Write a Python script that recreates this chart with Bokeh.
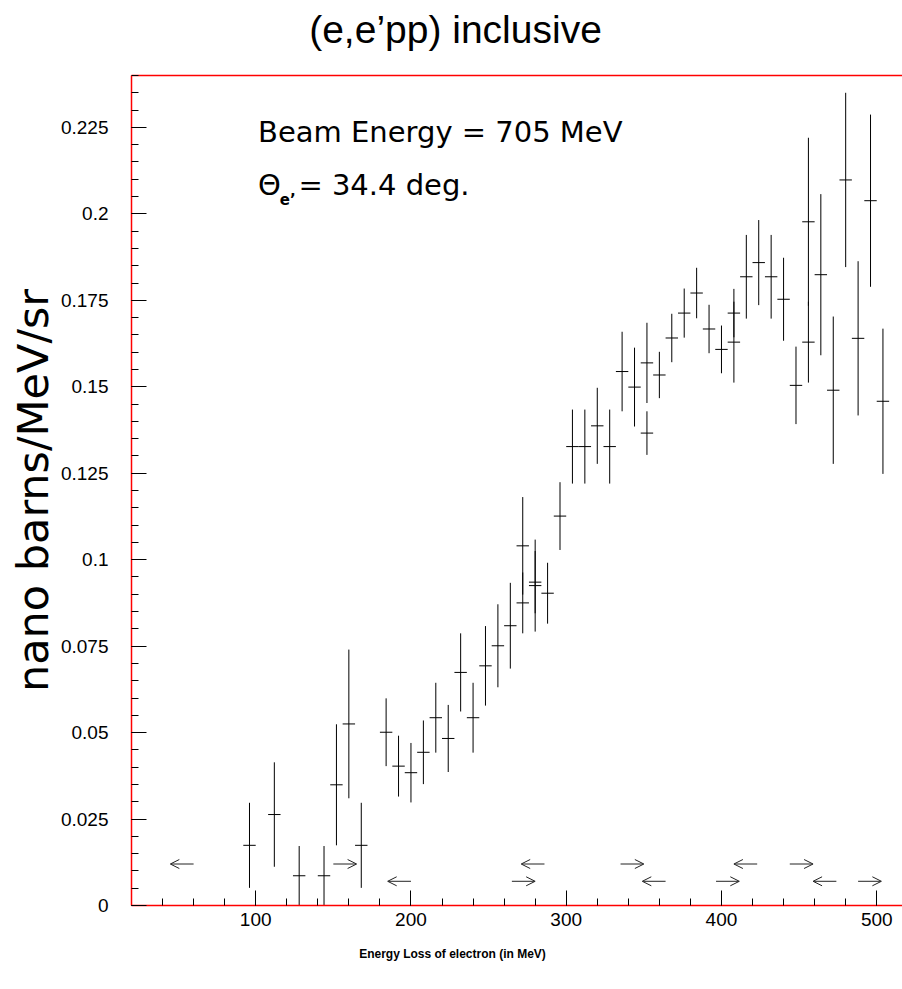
import numpy as np
from bokeh.plotting import figure
from bokeh.layouts import column
from bokeh.models import (ColumnDataSource, FixedTicker, LinearAxis, Label,
                          Arrow, OpenHead, Range1d)
from bokeh.core.properties import value
from bokeh.embed import file_html
from bokeh.resources import INLINE

# Measured cross sections per energy-loss bin (MeV)
energy_loss = [96, 112, 128, 144, 152, 160, 168, 184, 192, 200, 208, 216, 224,
               232, 240, 248, 256, 264, 272, 272, 280, 280, 288, 296, 304, 312,
               320, 328, 336, 344, 352, 352, 360, 368, 376, 384, 392, 400, 408,
               408, 416, 424, 432, 440, 448, 456, 456, 464, 472, 480, 488, 496,
               504]
cross_section = [0.0174, 0.0263, 0.0086, 0.0086, 0.0349, 0.0525, 0.0174, 0.0501,
                 0.0403, 0.0384, 0.0443, 0.0543, 0.0483, 0.0674, 0.0543, 0.0693,
                 0.0751, 0.0809, 0.1040, 0.0875, 0.0935, 0.0925, 0.0903, 0.1126,
                 0.1327, 0.1327, 0.1387, 0.1327, 0.1544, 0.1499, 0.1569, 0.1366,
                 0.1534, 0.1641, 0.1713, 0.1771, 0.1667, 0.1608, 0.1713, 0.1629,
                 0.1818, 0.1859, 0.1818, 0.1753, 0.1504, 0.1977, 0.1629, 0.1824,
                 0.1490, 0.2098, 0.1640, 0.2038, 0.1458]
cross_section_err = [0.0123, 0.0151, 0.0086, 0.0086, 0.0175, 0.0215, 0.0123,
                     0.0098, 0.0088, 0.0086, 0.0092, 0.0101, 0.0097, 0.0113,
                     0.0101, 0.0115, 0.0120, 0.0124, 0.0141, 0.0088, 0.0090,
                     0.0133, 0.0088, 0.0098, 0.0107, 0.0107, 0.0110, 0.0107,
                     0.0115, 0.0114, 0.0116, 0.0063, 0.0067, 0.0070, 0.0071,
                     0.0073, 0.0070, 0.0069, 0.0070, 0.0117, 0.0121, 0.0123,
                     0.0121, 0.0120, 0.0112, 0.0243, 0.0117, 0.0233, 0.0213,
                     0.0252, 0.0223, 0.0249, 0.0210]
bin_half_width = 4.0

# Arrow markers along the bottom of the plot
arrow_tail = [60, 150, 200, 286, 265, 335, 364, 396.5, 423, 444, 474, 488]
arrow_tip = [45, 165, 185, 271, 280, 350, 349, 411.5, 408, 459, 459, 503]
arrow_level = [0.012, 0.012, 0.007, 0.012, 0.007, 0.012, 0.007, 0.007, 0.012,
               0.012, 0.007, 0.007]

x_major = [100, 200, 300, 400, 500]
x_minor = list(range(20, 520, 20))
y_major = [0, 0.025, 0.05, 0.075, 0.1, 0.125, 0.15, 0.175, 0.2, 0.225]
y_labels = ["0", "0.025", "0.05", "0.075", "0.1", "0.125", "0.15", "0.175",
            "0.2", "0.225"]
y_minor = [round(0.005 * i, 3) for i in range(0, 49)]

title_text = "(e,e\u2019pp) inclusive"
x_caption = "Energy Loss of electron (in MeV)"

W = 902
LEFT = 131
HEAD_H = 60
FOOT_H = 52
MAIN_H = 989 - HEAD_H - FOOT_H

tick_font = "Liberation Sans"
note_font = "DejaVu Sans"
frame_red = "#ff0000"


def text_strip(height, label, cx, base_from_top, size, style):
    """A bare strip holding one line of centred text; x and y are page pixels."""
    s = figure(width=W, height=height, output_backend="svg", title=None,
               toolbar_location=None, x_range=Range1d(LEFT, W),
               y_range=Range1d(0, height), x_axis_type=None,
               y_axis_type=None, min_border_left=LEFT, min_border_right=0,
               min_border_top=0, min_border_bottom=0)
    s.outline_line_color = None
    s.background_fill_color = "white"
    s.border_fill_color = "white"
    s.text(x=[cx], y=[height - base_from_top], text=[label],
           text_align="center", text_baseline="alphabetic",
           text_font=value(tick_font), text_font_size=size,
           text_font_style=style, text_color="black")
    return s


header = text_strip(HEAD_H, title_text, 455, 29, "39px", "normal")

x = np.array(energy_loss, dtype=float)
y = np.array(cross_section)
dy = np.array(cross_section_err)
src = ColumnDataSource(dict(
    x=x, y=y, lo=np.clip(y - dy, 0, None), hi=y + dy,
    xl=x - bin_half_width, xr=x + bin_half_width))

p = figure(width=W, height=MAIN_H, output_backend="svg", toolbar_location=None,
           title=None, x_range=Range1d(20, 516.6), y_range=Range1d(0, 0.24),
           min_border_left=LEFT, min_border_right=0,
           min_border_top=75 - HEAD_H, min_border_bottom=MAIN_H + HEAD_H - 905)
p.background_fill_color = "white"
p.border_fill_color = "white"
p.outline_line_color = None
p.xgrid.visible = False
p.ygrid.visible = False

# error bars: vertical spread and bin width
p.segment(x0="x", y0="lo", x1="x", y1="hi", source=src,
          line_color="black", line_width=1)
p.segment(x0="xl", y0="y", x1="xr", y1="y", source=src,
          line_color="black", line_width=1)

arrow_src = ColumnDataSource(dict(x0=arrow_tail, x1=arrow_tip, lvl=arrow_level))
p.add_layout(Arrow(end=OpenHead(size=9, line_color="#222222", line_width=1),
                   x_start="x0", y_start="lvl", x_end="x1", y_end="lvl",
                   source=arrow_src, line_color="#222222", line_width=1))

xa = p.xaxis[0]
xa.ticker = FixedTicker(ticks=x_major, minor_ticks=x_minor)
xa.axis_line_color = frame_red
xa.axis_line_width = 1.5
xa.major_tick_in = 15
xa.major_tick_out = 0
xa.minor_tick_in = 7
xa.minor_tick_out = 0
xa.major_tick_line_color = "black"
xa.minor_tick_line_color = "black"
xa.major_label_text_font = tick_font
xa.major_label_text_font_size = "19px"
xa.major_label_text_color = "black"
xa.major_label_standoff = 7

ya = p.yaxis[0]
ya.ticker = FixedTicker(ticks=y_major, minor_ticks=y_minor)
ya.major_label_overrides = {v: s for v, s in zip(y_major, y_labels)}
ya.axis_line_color = frame_red
ya.axis_line_width = 1.5
ya.major_tick_in = 15
ya.major_tick_out = 0
ya.minor_tick_in = 7
ya.minor_tick_out = 0
ya.major_tick_line_color = "black"
ya.minor_tick_line_color = "black"
ya.major_label_text_font = tick_font
ya.major_label_text_font_size = "19px"
ya.major_label_text_color = "black"
ya.major_label_standoff = 23
ya.axis_label = "nano barns/MeV/sr"
ya.axis_label_text_font = note_font
ya.axis_label_text_font_style = "normal"
ya.axis_label_text_font_size = "43px"
ya.axis_label_text_color = "black"
ya.axis_label_standoff = 0

# top frame edge
top = LinearAxis(ticker=FixedTicker(ticks=[]), axis_line_color=frame_red,
                 axis_line_width=1.5,
                 major_tick_line_color=None, minor_tick_line_color=None,
                 major_label_text_font_size="0px")
p.add_layout(top, "above")

# run conditions
p.add_layout(Label(x=101.5, y=0.2236, text="Beam Energy = 705 MeV",
                   text_baseline="alphabetic", text_font=note_font,
                   text_font_size="29px", text_color="black"))
p.add_layout(Label(x=101.5, y=0.2082, text="\u0398",
                   text_baseline="alphabetic", text_font=note_font,
                   text_font_size="29px", text_color="black"))
p.add_layout(Label(x=115.5, y=0.2040, text="e\u2019",
                   text_baseline="alphabetic", text_font=note_font,
                   text_font_style="bold", text_font_size="15px",
                   text_color="black"))
p.add_layout(Label(x=127.5, y=0.2082, text="= 34.4 deg.",
                   text_baseline="alphabetic", text_font=note_font,
                   text_font_size="29px", text_color="black"))

footer = text_strip(FOOT_H, x_caption, 452, 16, "12px", "bold")

layout = column(header, p, footer, spacing=0)
open("out.html", "w").write(file_html(layout, INLINE))
